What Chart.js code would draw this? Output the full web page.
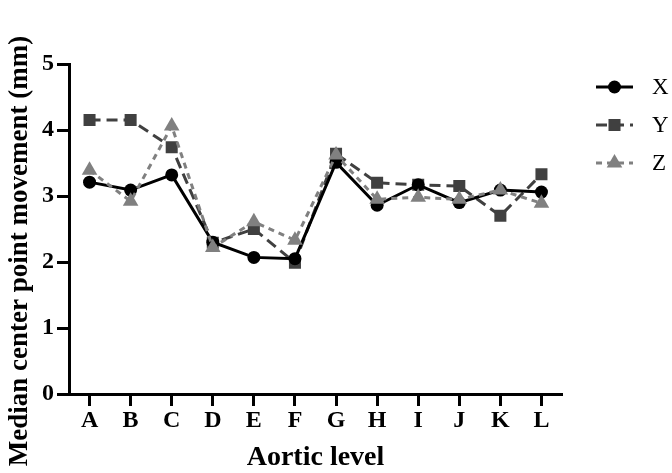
<!DOCTYPE html>
<html>
<head>
<meta charset="utf-8">
<script src="https://cdn.jsdelivr.net/npm/chart.js@4.4.0/dist/chart.umd.min.js"></script>
<style>
  html, body { margin: 0; padding: 0; background: #fff; }
  #wrap { width: 672px; height: 473px; }
</style>
</head>
<body>
<div id="wrap"><canvas id="c" width="672" height="473"></canvas></div>
<script>
const categories = ['A','B','C','D','E','F','G','H','I','J','K','L'];
const seriesX = [3.21, 3.09, 3.32, 2.30, 2.07, 2.05, 3.51, 2.86, 3.17, 2.90, 3.09, 3.06];
const seriesY = [4.15, 4.15, 3.74, 2.29, 2.50, 1.99, 3.64, 3.20, 3.17, 3.15, 2.70, 3.33];
const seriesZ = [3.39, 2.92, 4.06, 2.22, 2.61, 2.33, 3.62, 2.95, 2.98, 2.95, 3.09, 2.89];
const yTicks = [0, 1, 2, 3, 4, 5];
const yTitle = 'Median center point movement (mm)';
const xTitle = 'Aortic level';

const SERIF = "'Liberation Serif', 'Times New Roman', Times, serif";
const tickFont = { family: SERIF, weight: 'bold', size: 24, lineHeight: 1.1 };

const extrasPlugin = {
  id: 'extras',
  afterDraw(chart) {
    const ctx = chart.ctx;
    // y-axis title
    ctx.save();
    ctx.fillStyle = '#000';
    ctx.font = 'bold 27px ' + SERIF;
    ctx.textAlign = 'center';
    ctx.textBaseline = 'alphabetic';
    ctx.translate(27, 251);
    ctx.rotate(-Math.PI / 2);
    ctx.fillText(yTitle, 0, 0);
    ctx.restore();

    // legend: line segment with marker
    const rows = [87, 125, 163];
    const x0 = 596, x1 = 633, xm = (x0 + x1) / 2;
    chart.data.datasets.forEach((ds, i) => {
      const y = rows[i];
      ctx.save();
      ctx.strokeStyle = ds.borderColor;
      ctx.lineWidth = ds.borderWidth;
      ctx.setLineDash(ds.borderDash || []);
      ctx.beginPath();
      ctx.moveTo(x0, y); ctx.lineTo(x1, y);
      ctx.stroke();
      ctx.setLineDash([]);
      ctx.fillStyle = ds.pointBackgroundColor;
      const r = ds.pointRadius;
      ctx.beginPath();
      if (ds.pointStyle === 'circle') {
        ctx.arc(xm, y, r, 0, Math.PI * 2);
      } else if (ds.pointStyle === 'rect') {
        const s = r * Math.SQRT1_2;
        ctx.rect(xm - s, y - s, 2 * s, 2 * s);
      } else {
        let a = 0;
        ctx.moveTo(xm + Math.sin(a) * r, y - Math.cos(a) * r);
        a += 2 * Math.PI / 3;
        ctx.lineTo(xm + Math.sin(a) * r, y - Math.cos(a) * r);
        a += 2 * Math.PI / 3;
        ctx.lineTo(xm + Math.sin(a) * r, y - Math.cos(a) * r);
        ctx.closePath();
      }
      ctx.fill();
      ctx.fillStyle = '#000';
      ctx.font = '23px ' + SERIF;
      ctx.textBaseline = 'middle';
      ctx.textAlign = 'left';
      ctx.fillText(ds.label, 652, y + 1);
      ctx.restore();
    });
  }
};

new Chart(document.getElementById('c'), {
  type: 'line',
  data: {
    labels: categories,
    datasets: [
      { label: 'X', data: seriesX, borderColor: '#000000', backgroundColor: '#000000',
        pointBackgroundColor: '#000000', pointBorderWidth: 0, borderWidth: 3,
        pointStyle: 'circle', pointRadius: 6.5, tension: 0, order: 1 },
      { label: 'Y', data: seriesY, borderColor: '#404040', backgroundColor: '#404040',
        pointBackgroundColor: '#404040', pointBorderWidth: 0, borderWidth: 3, borderDash: [11, 6],
        pointStyle: 'rect', pointRadius: 8.5, tension: 0, order: 2 },
      { label: 'Z', data: seriesZ, borderColor: '#808080', backgroundColor: '#808080',
        pointBackgroundColor: '#808080', pointBorderWidth: 0, borderWidth: 3, borderDash: [6, 5],
        pointStyle: 'triangle', pointRadius: 9, tension: 0, order: 0 }
    ]
  },
  options: {
    responsive: false,
    animation: false,
    layout: { padding: { left: 0, right: 110, top: 64, bottom: 0 } },
    plugins: { legend: { display: false }, tooltip: { enabled: false } },
    scales: {
      x: {
        type: 'category',
        offset: true,
        border: { display: true, color: '#000', width: 3 },
        grid: { display: true, drawOnChartArea: false, offset: false, tickLength: 12, tickWidth: 3, tickColor: '#000' },
        ticks: { color: '#000', font: tickFont, padding: 2, maxRotation: 0, autoSkip: false },
        title: { display: true, text: xTitle, color: '#000',
                 font: { family: SERIF, weight: 'bold', size: 28, lineHeight: 1.1 }, padding: { top: 0, bottom: 0 } },
        afterFit(scale) { scale.height = 79; }
      },
      y: {
        min: 0, max: 5,
        border: { display: true, color: '#000', width: 3 },
        grid: { display: true, drawOnChartArea: false, tickLength: 12, tickWidth: 3, tickColor: '#000' },
        afterBuildTicks(scale) { scale.ticks = yTicks.map(v => ({ value: v })); },
        ticks: { color: '#000', font: tickFont, padding: 3 },
        title: { display: false },
        afterFit(scale) { scale.width = 69; }
      }
    }
  },
  plugins: [extrasPlugin]
});
</script>
</body>
</html>
